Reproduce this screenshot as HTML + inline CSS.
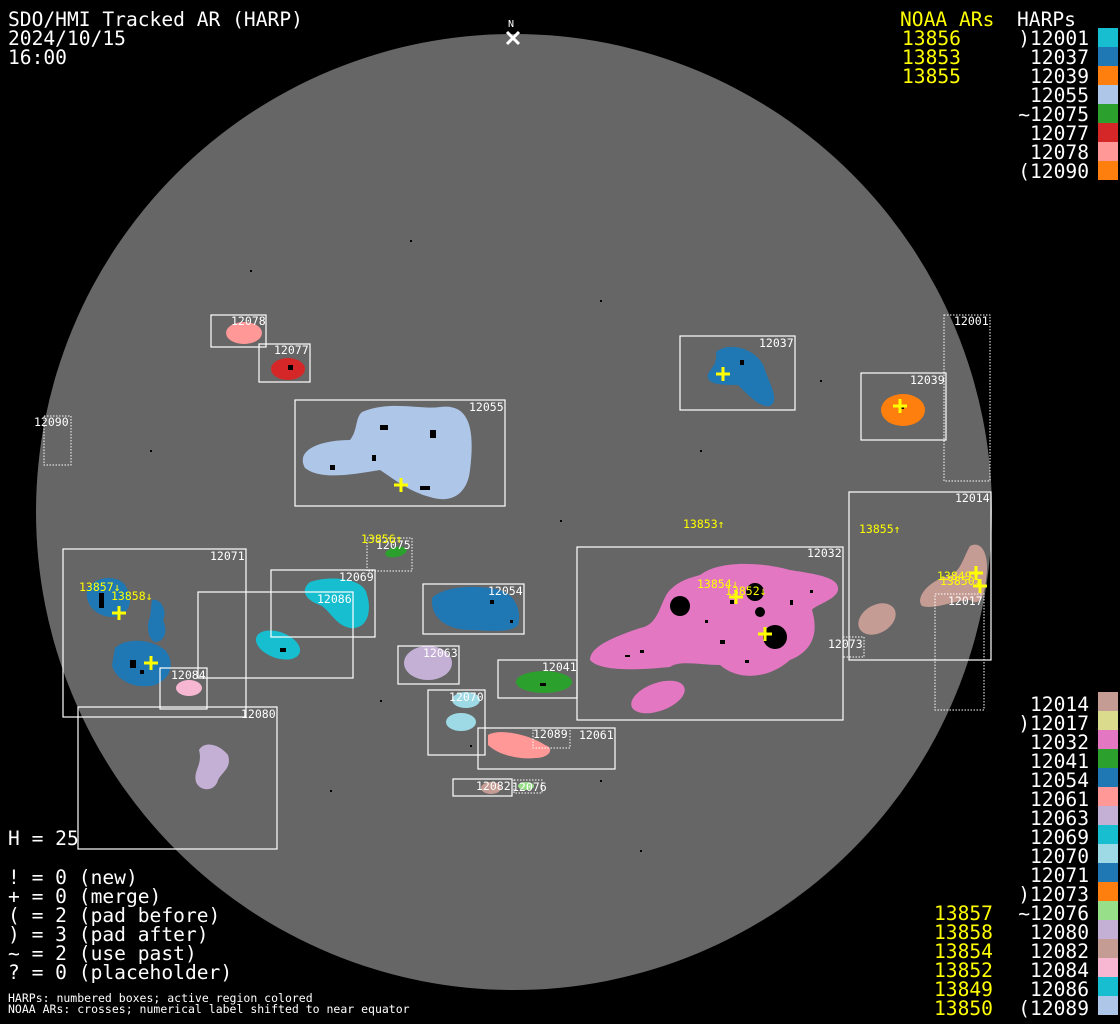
<!DOCTYPE html>
<html><head><meta charset="utf-8"><style>
html,body{margin:0;padding:0;background:#000;}
svg{display:block;}
text{font-family:"DejaVu Sans Mono","Liberation Mono",monospace;}
.t{fill:#fff;font-size:19.6px;}
.y{fill:#ffff00;font-size:19.6px;}
.s{fill:#fff;font-size:11.5px;}
.sy{fill:#ffff00;font-size:11.5px;}
.b{fill:none;stroke:#fff;stroke-width:1.2;}
.d{fill:none;stroke:#fff;stroke-width:1;stroke-dasharray:1.5,1.5;}
.cr{stroke:#ffff00;stroke-width:3;}
.k{fill:#000;}
</style></head><body>
<svg width="1120" height="1024" viewBox="0 0 1120 1024" xmlns="http://www.w3.org/2000/svg">
<rect width="1120" height="1024" fill="#000"/>
<circle cx="514" cy="512" r="478" fill="#666"/>

<ellipse cx="244" cy="333" rx="18" ry="11" fill="#ff9896"/>
<ellipse cx="288" cy="369" rx="17" ry="11" fill="#d62728"/>
<path d="M362,412 C390,400 420,410 440,407 C470,403 475,430 470,470 C468,490 455,505 430,497 C410,492 395,480 380,470 C350,475 320,480 305,468 C295,450 320,440 350,440 C358,430 355,418 362,412Z" fill="#aec7e8"/>
<path d="M716,352 C730,340 760,350 765,370 C770,385 780,400 770,406 C760,408 748,395 738,385 C725,385 710,385 708,378 C706,370 718,368 716,352Z" fill="#1f77b4"/>
<ellipse cx="903" cy="410" rx="22" ry="16" fill="#ff7f0e"/>
<path d="M700,575 C720,560 760,562 790,570 C815,574 840,577 838,590 C836,600 815,605 812,610 C818,630 815,650 790,660 C770,678 740,682 720,665 C700,665 680,660 670,667 C640,670 600,672 590,660 C590,645 620,635 640,628 C660,625 660,600 670,590 C680,580 690,578 700,575Z" fill="#e377c2"/>
<ellipse cx="658" cy="697" rx="28" ry="14" transform="rotate(-20 658 697)" fill="#e377c2"/>
<ellipse cx="877" cy="619" rx="20" ry="14" transform="rotate(-30 877 619)" fill="#c49c94"/>
<path d="M970,546 C982,540 990,555 986,580 C984,600 978,606 970,600 C955,600 935,610 922,606 C915,598 928,582 945,577 C960,575 962,560 970,546Z" fill="#c49c94"/>
<path d="M87,590 C95,575 118,575 125,585 C135,600 130,617 110,617 C95,615 85,605 87,590Z" fill="#1f77b4"/>
<path d="M152,600 C160,598 168,610 163,620 C168,630 165,642 155,642 C148,640 146,625 150,617Z" fill="#1f77b4"/>
<path d="M115,648 C125,638 150,638 165,650 C175,662 172,678 155,685 C135,690 115,680 112,665Z" fill="#1f77b4"/>
<ellipse cx="189" cy="688" rx="13" ry="8" fill="#f7b6d2"/>
<path d="M310,582 C330,575 365,578 367,595 C372,610 368,630 350,628 C335,625 330,610 320,605 C305,600 300,590 310,582Z" fill="#17becf"/>
<ellipse cx="278" cy="645" rx="23" ry="13" transform="rotate(20 278 645)" fill="#17becf"/>
<ellipse cx="396" cy="552" rx="11" ry="5" transform="rotate(-12 396 552)" fill="#2ca02c"/>
<path d="M432,598 C445,585 480,585 500,590 C515,595 522,610 518,625 C510,634 485,630 470,630 C450,630 430,620 432,598Z" fill="#1f77b4"/>
<ellipse cx="428" cy="663" rx="24" ry="17" fill="#c5b0d5"/>
<ellipse cx="544" cy="682" rx="28" ry="11" fill="#2ca02c"/>
<ellipse cx="466" cy="700" rx="14" ry="8" fill="#9edae5"/>
<ellipse cx="461" cy="722" rx="15" ry="9" fill="#9edae5"/>
<path d="M488,735 C500,728 530,735 545,745 C555,748 550,758 535,758 C520,760 498,755 488,745Z" fill="#ff9896"/>
<path d="M199,750 C205,740 220,745 228,755 C232,768 222,772 218,780 C215,792 200,792 196,782 C193,770 203,765 199,750Z" fill="#c5b0d5"/>
<ellipse cx="491" cy="788" rx="10" ry="6" fill="#c49c94"/>
<ellipse cx="526" cy="786" rx="8" ry="4" fill="#98df8a"/>

<g class="k">
<circle cx="680" cy="606" r="10"/><circle cx="775" cy="637" r="12"/><circle cx="755" cy="592" r="9"/><circle cx="760" cy="612" r="5"/>
<rect x="730" y="600" width="4" height="4"/><rect x="705" y="620" width="3" height="3"/><rect x="640" y="650" width="4" height="3"/><rect x="790" y="600" width="3" height="5"/>
<rect x="625" y="655" width="5" height="2"/><rect x="810" y="590" width="3" height="3"/><rect x="720" y="640" width="5" height="4"/><rect x="745" y="660" width="4" height="3"/>
<rect x="99" y="593" width="5" height="15"/><rect x="130" y="660" width="6" height="8"/><rect x="140" y="670" width="4" height="4"/>
<rect x="380" y="425" width="8" height="5"/><rect x="430" y="430" width="6" height="8"/><rect x="330" y="465" width="5" height="5"/><rect x="420" y="486" width="10" height="4"/><rect x="372" y="455" width="4" height="6"/>
<rect x="900" y="405" width="4" height="4"/><rect x="740" y="360" width="4" height="5"/><rect x="280" y="648" width="6" height="4"/><rect x="288" y="365" width="5" height="5"/>
<rect x="490" y="600" width="4" height="4"/><rect x="510" y="620" width="3" height="3"/><rect x="540" y="683" width="6" height="3"/>
<rect x="470" y="745" width="2" height="2"/><rect x="250" y="270" width="2" height="2"/><rect x="600" y="300" width="2" height="2"/><rect x="410" y="240" width="2" height="2"/>
<rect x="700" y="450" width="2" height="2"/><rect x="560" y="520" width="2" height="2"/><rect x="330" y="790" width="2" height="2"/><rect x="640" y="850" width="2" height="2"/>
<rect x="820" y="380" width="2" height="2"/><rect x="150" y="450" width="2" height="2"/><rect x="380" y="700" width="2" height="2"/><rect x="600" y="780" width="2" height="2"/>
</g>

<rect class="b" x="211" y="315" width="55" height="32"/><text class="s" x="231" y="325">12078</text>
<rect class="b" x="259" y="344" width="51" height="38"/><text class="s" x="274" y="354">12077</text>
<rect class="b" x="295" y="400" width="210" height="106"/><text class="s" x="469" y="411">12055</text>
<rect class="d" x="44" y="416" width="27" height="49"/><text class="s" x="34" y="426">12090</text>
<rect class="b" x="680" y="336" width="115" height="74"/><text class="s" x="759" y="347">12037</text>
<rect class="b" x="861" y="373" width="85" height="67"/><text class="s" x="910" y="384">12039</text>
<rect class="d" x="944" y="315" width="46" height="166"/><text class="s" x="954" y="325">12001</text>
<rect class="b" x="849" y="492" width="142" height="168"/><text class="s" x="955" y="502">12014</text>
<rect class="d" x="935" y="594" width="49" height="116"/><text class="s" x="948" y="605">12017</text>
<rect class="b" x="577" y="547" width="266" height="173"/><text class="s" x="807" y="557">12032</text>
<rect class="d" x="843" y="637" width="21" height="20"/><text class="s" x="828" y="648">12073</text>
<rect class="b" x="63" y="549" width="183" height="168"/><text class="s" x="210" y="560">12071</text>
<rect class="b" x="271" y="570" width="104" height="67"/><text class="s" x="339" y="581">12069</text>
<rect class="b" x="198" y="592" width="155" height="86"/><text class="s" x="317" y="603">12086</text>
<rect class="d" x="367" y="538" width="45" height="33"/><text class="s" x="376" y="549">12075</text>
<rect class="b" x="423" y="584" width="101" height="50"/><text class="s" x="488" y="595">12054</text>
<rect class="b" x="398" y="646" width="61" height="38"/><text class="s" x="423" y="657">12063</text>
<rect class="b" x="498" y="660" width="79" height="38"/><text class="s" x="542" y="671">12041</text>
<rect class="b" x="160" y="668" width="47" height="41"/><text class="s" x="171" y="679">12084</text>
<rect class="b" x="78" y="707" width="199" height="142"/><text class="s" x="241" y="718">12080</text>
<rect class="b" x="428" y="690" width="57" height="65"/><text class="s" x="449" y="701">12070</text>
<rect class="b" x="478" y="728" width="137" height="41"/><text class="s" x="579" y="739">12061</text>
<rect class="d" x="533" y="728" width="37" height="20"/><text class="s" x="533" y="738">12089</text>
<rect class="b" x="453" y="779" width="59" height="17"/><text class="s" x="476" y="790">12082</text>
<rect class="d" x="514" y="780" width="28" height="13"/><text class="s" x="512" y="791">12076</text>

<g class="cr">
<path d="M716,374h14M723,367v14"/><path d="M893,406h14M900,399v14"/><path d="M394,485h14M401,478v14"/>
<path d="M729,597h14M736,590v14"/><path d="M758,634h14M765,627v14"/><path d="M969,573h14M976,566v14"/>
<path d="M973,586h14M980,579v14"/><path d="M112,613h14M119,606v14"/><path d="M144,663h14M151,656v14"/>
</g>
<text class="sy" x="683" y="528">13853↑</text>
<text class="sy" x="859" y="533">13855↑</text>
<text class="sy" x="361" y="543">13856↑</text>
<text class="sy" x="79" y="591">13857↓</text>
<text class="sy" x="111" y="600">13858↓</text>
<text class="sy" x="697" y="588">13854↓</text>
<text class="sy" x="725" y="595">13852↓</text>
<text class="sy" x="937" y="580">13849</text>
<text class="sy" x="940" y="585">13850↓</text>

<text x="508" y="27" fill="#fff" style="font-size:10px">N</text>
<path d="M507,32l12,12M519,32l-12,12" stroke="#fff" stroke-width="3"/>

<text class="t" x="8" y="26">SDO/HMI Tracked AR (HARP)</text>
<text class="t" x="8" y="45">2024/10/15</text>
<text class="t" x="8" y="64">16:00</text>

<text class="y" x="900" y="26">NOAA ARs</text>
<text class="t" x="1017" y="26">HARPs</text>
<g class="y"><text x="902" y="45">13856</text><text x="902" y="64">13853</text><text x="902" y="83">13855</text></g>
<g class="t" text-anchor="end">
<text x="1089" y="45">)12001</text><text x="1089" y="64">12037</text><text x="1089" y="83">12039</text><text x="1089" y="102">12055</text>
<text x="1089" y="121">~12075</text><text x="1089" y="140">12077</text><text x="1089" y="159">12078</text><text x="1089" y="178">(12090</text>
</g>
<rect x="1098" y="28" width="20" height="19" fill="#17becf"/>
<rect x="1098" y="47" width="20" height="19" fill="#1f77b4"/>
<rect x="1098" y="66" width="20" height="19" fill="#ff7f0e"/>
<rect x="1098" y="85" width="20" height="19" fill="#aec7e8"/>
<rect x="1098" y="104" width="20" height="19" fill="#2ca02c"/>
<rect x="1098" y="123" width="20" height="19" fill="#d62728"/>
<rect x="1098" y="142" width="20" height="19" fill="#ff9896"/>
<rect x="1098" y="161" width="20" height="19" fill="#ff7f0e"/>

<g class="t" text-anchor="end">
<text x="1089" y="711">12014</text><text x="1089" y="730">)12017</text><text x="1089" y="749">12032</text><text x="1089" y="768">12041</text>
<text x="1089" y="787">12054</text><text x="1089" y="806">12061</text><text x="1089" y="825">12063</text><text x="1089" y="844">12069</text>
<text x="1089" y="863">12070</text><text x="1089" y="882">12071</text><text x="1089" y="901">)12073</text><text x="1089" y="920">~12076</text>
<text x="1089" y="939">12080</text><text x="1089" y="958">12082</text><text x="1089" y="977">12084</text><text x="1089" y="996">12086</text><text x="1089" y="1015">(12089</text>
</g>
<g class="y"><text x="934" y="920">13857</text><text x="934" y="939">13858</text><text x="934" y="958">13854</text><text x="934" y="977">13852</text><text x="934" y="996">13849</text><text x="934" y="1015">13850</text></g>
<g>
<rect x="1098" y="692" width="20" height="19" fill="#c49c94"/>
<rect x="1098" y="711" width="20" height="19" fill="#dbdb8d"/>
<rect x="1098" y="730" width="20" height="19" fill="#e377c2"/>
<rect x="1098" y="749" width="20" height="19" fill="#2ca02c"/>
<rect x="1098" y="768" width="20" height="19" fill="#1f77b4"/>
<rect x="1098" y="787" width="20" height="19" fill="#ff9896"/>
<rect x="1098" y="806" width="20" height="19" fill="#c5b0d5"/>
<rect x="1098" y="825" width="20" height="19" fill="#17becf"/>
<rect x="1098" y="844" width="20" height="19" fill="#9edae5"/>
<rect x="1098" y="863" width="20" height="19" fill="#1f77b4"/>
<rect x="1098" y="882" width="20" height="19" fill="#ff7f0e"/>
<rect x="1098" y="901" width="20" height="19" fill="#98df8a"/>
<rect x="1098" y="920" width="20" height="19" fill="#c5b0d5"/>
<rect x="1098" y="939" width="20" height="19" fill="#c49c94"/>
<rect x="1098" y="958" width="20" height="19" fill="#f7b6d2"/>
<rect x="1098" y="977" width="20" height="19" fill="#17becf"/>
<rect x="1098" y="996" width="20" height="19" fill="#aec7e8"/>
</g>

<text class="t" x="8" y="845">H = 25</text>
<text class="t" x="8" y="884">! = 0 (new)</text>
<text class="t" x="8" y="903">+ = 0 (merge)</text>
<text class="t" x="8" y="922">( = 2 (pad before)</text>
<text class="t" x="8" y="941">) = 3 (pad after)</text>
<text class="t" x="8" y="960">~ = 2 (use past)</text>
<text class="t" x="8" y="979">? = 0 (placeholder)</text>
<text class="s" x="8" y="1002">HARPs: numbered boxes; active region colored</text>
<text class="s" x="8" y="1013">NOAA ARs: crosses; numerical label shifted to near equator</text>
</svg>
</body></html>
